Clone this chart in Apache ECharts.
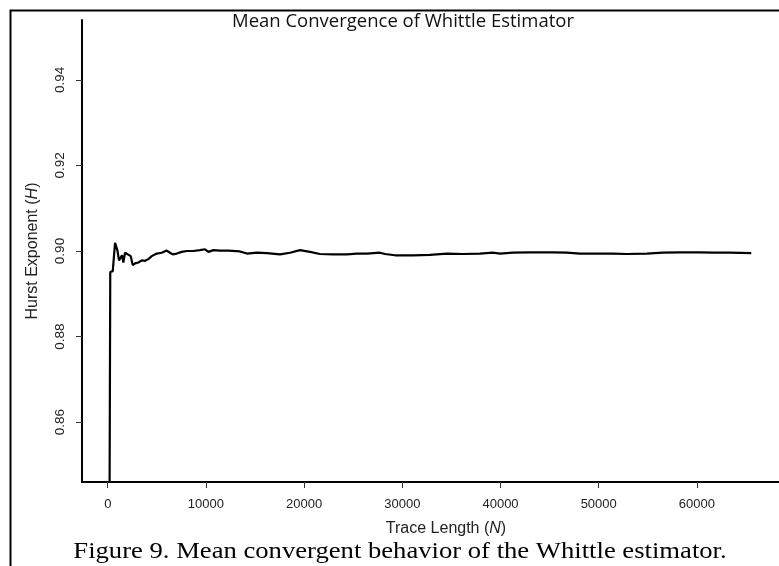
<!DOCTYPE html>
<html>
<head>
<meta charset="utf-8">
<script src="https://cdn.jsdelivr.net/npm/echarts@6/dist/echarts.min.js"></script>
<style>
  html, body { margin: 0; padding: 0; background: #fff; }
  #chart { width: 779px; height: 566px; }
</style>
</head>
<body>
<div id="chart"></div>
<script>
// Trace length N (x values) and mean Hurst exponent H (y values)
const traceN = [128, 256, 512, 743, 978, 1150, 1324, 1456, 1590, 1762,
  1935, 2342, 2546, 2780, 3116, 3462, 3798, 4134, 4480, 4990,
  5499, 6008, 6344, 6619, 7026, 7536, 8045, 8717, 9400, 9908,
  10244, 10754, 11436, 12281, 13470, 14180, 15200, 16220, 17540, 18560,
  19580, 20600, 21610, 22940, 24360, 25380, 26400, 27720, 28230, 29250,
  31080, 32810, 34540, 36170, 37900, 39220, 39940, 41260, 42990, 45330,
  46760, 48080, 49810, 51440, 52870, 54900, 56530, 58260, 60300, 61620,
  63350, 65536];
const hurstH = [0.80, 0.8951, 0.8953, 0.9019, 0.9002, 0.8978, 0.8974, 0.8990, 0.8973, 0.8996,
  0.8998, 0.8988, 0.8967, 0.8971, 0.8973, 0.8978, 0.8977, 0.8981, 0.8988, 0.8994,
  0.8996, 0.9001, 0.8996, 0.8992, 0.8994, 0.8998, 0.9000, 0.9000, 0.9002, 0.9004,
  0.8998, 0.9002, 0.9001, 0.9001, 0.8999, 0.8994, 0.8996, 0.8995, 0.8992, 0.8996,
  0.9002, 0.8998, 0.8993, 0.8992, 0.8992, 0.8994, 0.8994, 0.8996, 0.8993, 0.8990,
  0.8990, 0.8991, 0.8994, 0.8993, 0.8994, 0.8996, 0.8994, 0.8996, 0.8997, 0.8997,
  0.8996, 0.8994, 0.8994, 0.8994, 0.8993, 0.8994, 0.8996, 0.8997, 0.8997, 0.8996,
  0.8996, 0.8995];
const xTicks = [0, 10000, 20000, 30000, 40000, 50000, 60000];
const yTicks = [0.86, 0.88, 0.90, 0.92, 0.94];

const titleText = 'Mean Convergence of Whittle Estimator';
const captionText = 'Figure 9. Mean convergent behavior of the Whittle estimator.';

const seriesData = traceN.map((n, i) => [n, hurstH[i]]);

const chart = echarts.init(document.getElementById('chart'), null, { renderer: 'canvas' });
const sans = 'Liberation Sans, Arial, sans-serif';

chart.setOption({
  backgroundColor: '#ffffff',
  animation: false,
  title: {
    text: titleText,
    left: 232,
    top: 12,
    padding: 0,
    textStyle: { fontFamily: 'Open Sans', fontSize: 18.5, fontWeight: 'normal', color: '#111' }
  },
  // the plot region of the original figure runs past the cropped right edge
  grid: { left: 82, right: -31, top: 20, bottom: 84, containLabel: false, outerBoundsMode: 'none' },
  xAxis: {
    type: 'value',
    min: -2621.44,
    max: 71518,
    name: 'Trace Length ({i|N})',
    nameLocation: 'middle',
    nameGap: 39,
    nameTextStyle: {
      fontFamily: sans, fontSize: 16, color: '#222',
      rich: { i: { fontFamily: sans, fontSize: 16, fontStyle: 'italic', color: '#222' } }
    },
    axisLine: { show: true, onZero: false, lineStyle: { color: '#000', width: 2 } },
    axisTick: { show: true, length: 6, customValues: xTicks, lineStyle: { color: '#333', width: 1 } },
    axisLabel: {
      show: true, customValues: xTicks, margin: 16,
      fontFamily: sans, fontSize: 13, color: '#222',
      formatter: v => String(v)
    },
    splitLine: { show: false }
  },
  yAxis: {
    type: 'value',
    min: 0.846,
    max: 0.954,
    name: 'Hurst Exponent ({i|H})',
    nameLocation: 'middle',
    nameRotate: 90,
    nameGap: 41,
    nameTextStyle: {
      fontFamily: sans, fontSize: 16, color: '#222',
      rich: { i: { fontFamily: sans, fontSize: 16, fontStyle: 'italic', color: '#222' } }
    },
    axisLine: { show: true, onZero: false, lineStyle: { color: '#000', width: 2 } },
    axisTick: { show: true, length: 6, customValues: yTicks, lineStyle: { color: '#333', width: 1 } },
    axisLabel: {
      show: true, customValues: yTicks, margin: 15, rotate: 90,
      fontFamily: sans, fontSize: 13.5, color: '#222',
      formatter: v => v.toFixed(2)
    },
    splitLine: { show: false }
  },
  series: [{
    type: 'line',
    data: seriesData,
    showSymbol: false,
    symbol: 'none',
    clip: true,
    lineStyle: { color: '#000', width: 2.2 },
    itemStyle: { color: '#000' }
  }],
  graphic: [
    {
      type: 'polyline',
      shape: { points: [[10.5, 566], [10.5, 10.5], [779, 10.5]] },
      style: { stroke: '#000', lineWidth: 2, fill: null }
    },
    {
      type: 'text',
      x: 400,
      y: 552,
      scaleX: 1.158,
      style: {
        text: captionText,
        fontFamily: 'Liberation Serif, Times New Roman, serif',
        fontSize: 23,
        fill: '#000',
        textAlign: 'center',
        textVerticalAlign: 'middle'
      }
    }
  ]
});
</script>
</body>
</html>
